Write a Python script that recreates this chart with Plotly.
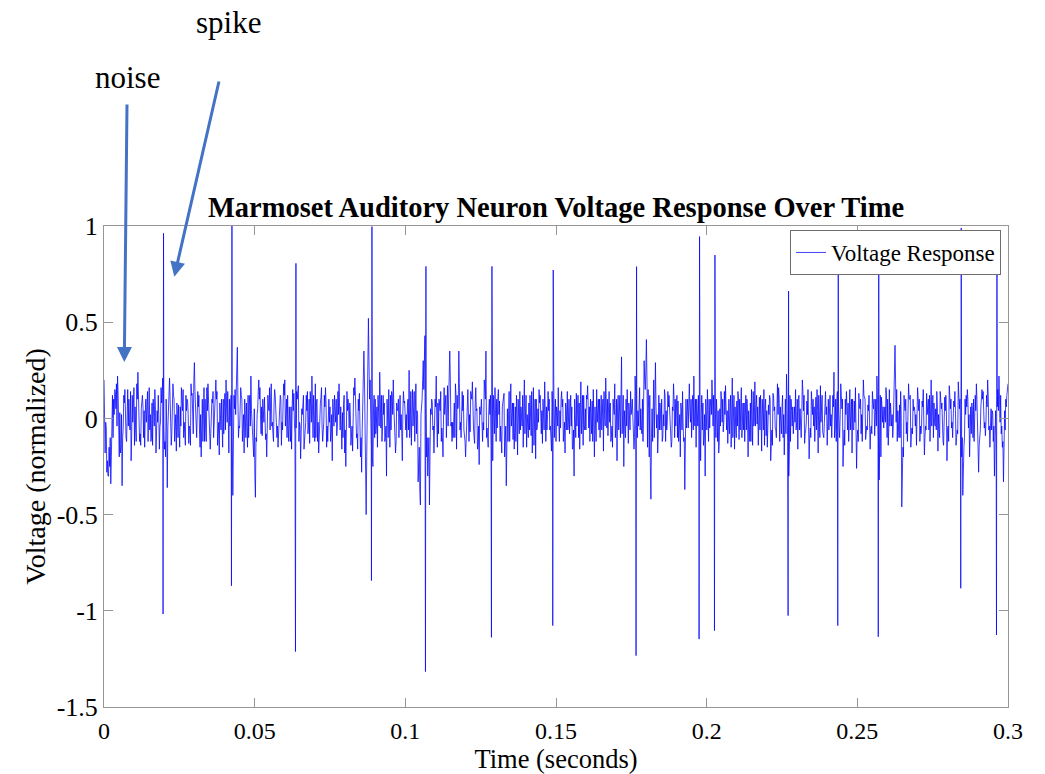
import plotly.graph_objects as go

# ---------------- data ----------------
dt = 0.00075  # sampling step of the background trace (s)

# background samples at t = i*dt
noise = [
    0.20, -0.05, -0.30, -0.34, -0.10, 0.14, 0.22, 0.03, -0.35, 0.08, -0.12, 0.10, -0.22, 0.06, -0.05, 0.24, -0.08, 0.12, -0.15, 0.04,
    0.16, -0.10, 0.05, -0.18, 0.12, -0.02, 0.21, -0.12, -0.36, 0.21, -0.08, 0.10, -0.17, 0.07, -0.04, 0.15, -0.14, 0.09, -0.06, 0.13,
    0.29, -0.10, 0.12, -0.20, 0.05, -0.06, 0.18, -0.16, 0.08, -0.03, 0.14, -0.19, 0.10, -0.08, 0.20, -0.12, 0.06, -0.40, 0.15, 0.37,
    -0.05, 0.10, -0.18, 0.08, -0.10, 0.22, -0.14, -0.41, 0.05, 0.16, -0.09, 0.11, -0.20, 0.04, 0.18, -0.12, 0.07, -0.15, 0.12, -0.06,
    0.20, -0.10, 0.06, -0.16, 0.13, -0.05, 0.17, -0.21, 0.09, -0.08, 0.14, -0.13, 0.22, -0.04, 0.08, -0.18, 0.11, -0.07, 0.16, -0.12,
    0.06, -0.22, 0.12, -0.09, 0.18, -0.14, 0.07, -0.25, 0.10, 0.02, -0.17, 0.21, -0.08, 0.13, -0.28, 0.35, -0.50, 0.52, -0.10, -0.25,
    0.10, -0.15, 0.24, -0.12, 0.08, -0.30, 0.15, -0.06, 0.20, -0.18, 0.05, 0.12, -0.22, 0.09, -0.10, 0.25, -0.14, 0.06, 0.18, -0.33,
    -0.45, 0.20, 0.43, -0.10, -0.45, 0.10, -0.18, 0.22, -0.08, 0.14, -0.20, 0.06, 0.17, 0.35, -0.12, 0.08, -0.16, 0.35, -0.10, 0.12,
    -0.20, 0.15, -0.07, 0.19, -0.13, 0.05, -0.24, 0.10, -0.06, 0.35, -0.15, 0.12, -0.22, 0.16, -0.05, 0.09, -0.18, 0.13, -0.35, 0.07,
    0.18, -0.11, 0.06, -0.19, 0.14, -0.04, 0.20, -0.15, 0.08, -0.09, 0.16, -0.21, 0.05, 0.12, -0.13, 0.19, -0.06, 0.10, -0.17, 0.21,
    -0.12, 0.16, -0.05, 0.10, -0.18, 0.14, -0.08, 0.06, -0.30, 0.13, -0.10, 0.19, -0.14, 0.05, 0.17, -0.12, 0.09, -0.20, 0.15, -0.06,
    0.12, -0.17, 0.21, -0.09, 0.08, -0.15, 0.18, -0.22, 0.05, 0.32, -0.25, 0.10, -0.13, 0.14, -0.05, 0.22, -0.10, 0.16, -0.08, 0.30,
    0.41, 0.05, -0.42, 0.10, 0.29, -0.18, 0.08, -0.12, 0.15, -0.06, 0.12, -0.15, 0.18, -0.04, 0.09, -0.20, 0.14, -0.37, 0.06, 0.18,
    -0.10, 0.22, -0.15, 0.12, -0.22, 0.08, -0.30, 0.15, -0.05, 0.20, -0.12, 0.10, -0.18, 0.14, -0.07, 0.17, -0.13, 0.06, 0.21, -0.16,
    0.09, -0.11, 0.16, -0.06, 0.12, -0.20, 0.08, -0.14, 0.19, -0.03, 0.11, -0.17, 0.15, -0.09, 0.07, -0.22, 0.13, -0.05, 0.18, -0.12,
    0.06, -0.19, 0.23, -0.30, 0.10, -0.08, 0.15, -0.16, 0.05, 0.20, -0.13, 0.09, -0.21, 0.14, -0.04, 0.11, -0.18, 0.17, -0.07, 0.12,
    -0.14, 0.08, -0.10, 0.24, -0.12, 0.06, 0.18, -0.25, 0.10, -0.06, 0.15, -0.18, 0.09, -0.26, 0.13, -0.08, 0.20, -0.11, 0.07, -0.16,
    0.14, -0.09, 0.22, -0.32, 0.11, -0.05, 0.16, -0.14, 0.08, -0.10, 0.38, -0.12, 0.07, -0.46, 0.12, -0.08, 0.18, -0.15, 0.10, -0.04,
    0.16, -0.12, 0.09, -0.19, 0.13, -0.06, 0.20, -0.10, 0.05, -0.17, 0.14, -0.08, 0.11, -0.22, 0.17, -0.05, 0.09, -0.14, 0.19, -0.11,
    -0.40, 0.10, 0.15, -0.20, 0.08, -0.12, 0.18, -0.28, 0.06, 0.14, -0.09, 0.20, -0.15, 0.04, -0.30, 0.12, 0.22, -0.08, -0.33, 0.10,
    0.18,
]

# background samples at t = (i + 0.25)*dt
noise_q1 = [
    0.05, -0.28, -0.15, -0.20, 0.10, 0.05, 0.12, -0.18, -0.10, 0.15, 0.04, -0.02, -0.08, 0.16, -0.12, 0.10, -0.14, 0.06, 0.02, 0.14,
    -0.06, 0.08, -0.04, -0.10, 0.02, 0.16, 0.08, -0.20, -0.05, 0.10, 0.04, -0.12, 0.08, -0.06, 0.16, -0.10, 0.12, 0.02, -0.14, 0.06,
    0.14, 0.02, -0.06, -0.04, 0.16, -0.12, 0.10, -0.08, 0.14, 0.06, -0.14, 0.08, -0.04, 0.06, 0.05, -0.18, 0.12, -0.20, 0.02, 0.10,
    0.08, -0.12, 0.10, -0.04, 0.06, 0.04, -0.20, -0.10, 0.14, 0.02, 0.10, -0.06, -0.05, 0.16, -0.04, 0.08, -0.02, -0.06, 0.10, 0.08,
    -0.04, 0.12, -0.10, 0.06, -0.02, 0.14, -0.12, -0.06, 0.12, -0.02, -0.08, 0.14, 0.04, -0.12, 0.10, -0.06, 0.16, -0.02, 0.08, 0.02,
    -0.12, 0.10, 0.06, -0.04, 0.10, -0.16, 0.12, -0.08, 0.04, -0.14, 0.08, 0.12, -0.16, 0.02, -0.06, 0.20, -0.20, 0.30, -0.15, 0.05,
    -0.08, 0.12, 0.02, -0.04, -0.12, 0.10, -0.02, 0.14, 0.06, -0.12, 0.10, -0.06, 0.04, 0.02, 0.06, -0.10, 0.02, 0.14, -0.08, -0.20,
    0.02, 0.30, 0.15, -0.30, -0.10, 0.08, 0.06, -0.02, 0.10, -0.12, 0.02, 0.12, -0.04, 0.20, -0.02, -0.10, 0.12, 0.18, 0.02, -0.06,
    -0.06, 0.04, 0.14, -0.04, 0.08, -0.16, 0.06, -0.02, 0.20, -0.10, 0.04, -0.14, 0.12, -0.04, 0.10, -0.12, 0.06, -0.20, -0.02, 0.14,
    -0.04, 0.08, -0.12, 0.10, -0.06, 0.12, -0.08, 0.02, -0.06, 0.14, -0.14, 0.10, -0.02, 0.04, 0.10, -0.10, 0.02, -0.06, 0.14, -0.10,
    0.06, -0.02, 0.10, -0.12, 0.08, -0.06, 0.04, -0.16, 0.10, -0.04, 0.08, -0.08, 0.12, -0.06, 0.04, 0.10, -0.12, 0.06, -0.02, 0.10,
    -0.06, 0.14, -0.04, 0.06, -0.12, 0.10, -0.10, 0.06, 0.12, -0.08, 0.04, -0.04, 0.08, 0.02, -0.10, 0.14, 0.04, -0.06, 0.10, 0.20,
    0.20, -0.20, -0.10, 0.20, 0.06, -0.08, 0.02, -0.10, 0.12, -0.02, 0.06, -0.12, 0.10, 0.04, -0.12, 0.08, -0.04, -0.20, 0.10, 0.04,
    0.06, -0.02, 0.10, -0.06, 0.02, -0.14, 0.10, -0.08, 0.06, 0.10, -0.06, 0.02, -0.12, 0.10, -0.02, 0.06, -0.04, 0.12, -0.10, 0.06,
    -0.04, 0.10, -0.10, 0.08, -0.06, 0.04, -0.12, 0.14, -0.04, 0.06, -0.06, 0.10, -0.14, 0.04, 0.02, -0.10, 0.12, -0.06, 0.02, 0.06,
    0.12, -0.06, 0.10, -0.16, 0.04, 0.02, -0.06, 0.10, -0.04, 0.14, -0.08, 0.02, -0.10, 0.08, 0.06, -0.06, 0.12, -0.02, -0.08, 0.14,
    -0.02, 0.12, 0.04, -0.10, 0.08, -0.04, 0.12, -0.12, 0.02, 0.08, -0.06, 0.10, -0.02, -0.10, 0.06, 0.02, 0.12, -0.08, 0.04, -0.06,
    0.08, -0.02, 0.10, -0.14, 0.06, 0.02, 0.12, -0.06, 0.02, -0.04, 0.20, 0.04, -0.10, -0.20, 0.06, -0.02, 0.10, -0.08, 0.04, 0.02,
    0.10, -0.04, 0.06, -0.10, 0.02, 0.12, -0.04, 0.08, -0.06, 0.02, 0.10, -0.12, 0.04, -0.06, 0.12, -0.02, 0.06, -0.10, 0.12, -0.04,
    -0.20, 0.02, 0.10, -0.08, 0.04, -0.02, 0.10, -0.14, 0.10, 0.04, -0.02, 0.12, -0.08, 0.02, -0.10, 0.06, 0.10, -0.04, -0.14, 0.06,
]

# background samples at t = (i + 0.5)*dt
noise_mid = [
    -0.18, -0.22, -0.25, 0.05, 0.02, 0.18, -0.10, -0.15, -0.05, -0.02, 0.15, -0.06, 0.12, -0.14, 0.18, 0.02, 0.05, -0.10, 0.10, -0.12,
    0.02, -0.14, 0.15, 0.04, -0.16, 0.08, -0.05, 0.10, 0.05, -0.12, 0.18, -0.06, 0.02, -0.15, 0.12, -0.02, 0.04, -0.13, 0.18, -0.08,
    0.05, 0.14, -0.15, 0.10, -0.12, 0.16, -0.04, 0.03, -0.10, 0.20, -0.05, 0.02, -0.15, 0.13, -0.02, 0.10, -0.18, 0.12, 0.22, -0.10,
    0.16, -0.04, 0.02, -0.15, 0.12, -0.06, 0.05, -0.12, 0.20, -0.08, 0.04, -0.11, 0.12, -0.06, -0.02, 0.15, -0.10, 0.05, -0.14, 0.18,
    0.03, -0.05, -0.12, 0.15, -0.08, 0.10, -0.02, 0.05, -0.16, 0.12, -0.04, 0.08, -0.10, 0.18, -0.12, 0.04, -0.05, 0.12, -0.15, 0.10,
    -0.08, 0.05, -0.02, 0.14, -0.06, 0.03, -0.18, 0.14, -0.05, -0.10, 0.16, -0.04, 0.10, -0.20, 0.05, -0.10, 0.05, 0.10, -0.05, 0.12,
    -0.04, 0.06, -0.05, 0.12, -0.10, 0.04, -0.15, 0.12, -0.02, 0.08, -0.10, 0.02, 0.14, -0.06, 0.10, -0.04, 0.15, -0.12, 0.04, -0.15,
    0.05, 0.15, 0.10, -0.20, 0.05, -0.06, 0.10, -0.15, 0.04, -0.05, 0.16, -0.10, 0.08, -0.04, -0.10, 0.18, 0.05, -0.06, 0.14, -0.08,
    0.04, -0.12, 0.10, -0.05, 0.16, -0.14, 0.02, -0.12, 0.15, -0.05, 0.10, -0.08, 0.04, -0.12, 0.15, -0.04, 0.08, -0.10, 0.05, -0.12,
    0.05, -0.16, 0.12, -0.02, 0.06, -0.15, 0.10, -0.04, 0.12, -0.18, 0.04, -0.06, 0.15, -0.08, 0.05, -0.12, 0.14, -0.04, 0.06, -0.02,
    0.04, -0.12, 0.14, -0.06, 0.05, -0.02, 0.12, -0.15, 0.02, 0.05, -0.16, 0.06, -0.04, 0.12, -0.05, -0.02, 0.15, -0.08, 0.04, -0.10,
    0.05, 0.02, -0.05, 0.14, -0.10, 0.06, -0.04, 0.12, -0.10, 0.05, -0.04, 0.15, -0.02, 0.05, -0.16, 0.10, -0.04, 0.05, -0.12, 0.15,
    -0.15, 0.12, 0.05, -0.10, -0.05, 0.12, -0.06, 0.02, -0.12, 0.14, -0.05, 0.06, -0.10, 0.12, -0.06, 0.04, -0.12, 0.10, -0.05, -0.02,
    0.12, -0.04, 0.05, -0.15, 0.12, -0.10, 0.05, -0.12, 0.10, -0.04, 0.06, -0.12, 0.05, -0.02, 0.14, -0.06, 0.10, -0.15, 0.05, -0.04,
    0.14, -0.06, 0.04, -0.12, 0.10, -0.05, 0.15, -0.04, 0.06, -0.14, 0.12, -0.02, 0.05, -0.15, 0.12, -0.06, 0.04, -0.10, 0.16, -0.05,
    -0.10, 0.10, -0.12, 0.12, -0.04, 0.06, -0.02, 0.12, -0.10, 0.04, -0.06, 0.15, -0.05, 0.02, -0.12, 0.15, -0.04, 0.06, -0.10, 0.02,
    0.10, -0.04, 0.12, -0.05, 0.14, -0.10, 0.05, -0.06, 0.14, -0.12, 0.04, -0.05, 0.16, -0.06, 0.05, -0.12, 0.10, -0.04, 0.12, -0.04,
    0.05, 0.10, -0.12, 0.12, -0.02, 0.06, -0.10, 0.15, -0.04, 0.12, -0.02, -0.06, 0.14, -0.15, 0.04, -0.12, 0.10, -0.05, 0.06, -0.14,
    0.04, -0.08, 0.15, -0.04, 0.06, -0.12, 0.10, -0.02, 0.14, -0.06, 0.05, -0.14, 0.12, -0.04, 0.05, -0.10, 0.14, -0.06, 0.05, -0.20,
    -0.15, 0.12, -0.05, 0.06, -0.10, 0.12, -0.04, -0.10, 0.15, -0.05, 0.12, -0.06, 0.05, -0.12, 0.04, 0.15, -0.02, -0.15, 0.04, 0.12,
]

# background samples at t = (i + 0.75)*dt
noise_q3 = [
    -0.02, -0.30, -0.10, 0.12, 0.15, -0.04, -0.20, 0.02, 0.12, -0.10, -0.04, 0.14, -0.02, 0.06, 0.10, -0.12, 0.08, 0.04, -0.02, 0.10,
    -0.12, 0.10, 0.06, -0.02, -0.04, 0.14, -0.16, -0.04, 0.10, -0.14, 0.12, 0.02, -0.10, 0.06, 0.04, -0.08, 0.10, -0.04, 0.12, 0.20,
    -0.04, 0.06, 0.02, -0.12, 0.10, 0.04, -0.14, 0.10, -0.02, 0.10, -0.02, -0.06, 0.10, -0.06, 0.14, -0.04, -0.10, 0.05, 0.30, -0.04,
    0.12, 0.02, -0.10, 0.12, -0.04, -0.06, -0.30, 0.02, 0.10, 0.06, -0.02, -0.08, 0.06, 0.10, -0.08, 0.12, -0.04, 0.08, -0.02, 0.12,
    0.10, -0.12, 0.06, 0.04, -0.06, 0.14, -0.04, 0.02, -0.10, 0.04, 0.10, -0.02, 0.12, -0.10, -0.02, 0.08, -0.12, 0.06, -0.04, -0.02,
    0.02, -0.04, 0.10, 0.02, 0.06, -0.10, -0.06, 0.04, 0.08, -0.04, 0.12, -0.10, 0.04, -0.10, 0.10, -0.20, 0.10, 0.20, -0.20, -0.10,
    0.06, -0.04, 0.12, 0.02, -0.04, -0.10, 0.12, 0.02, -0.06, 0.04, 0.02, -0.08, 0.08, 0.02, -0.06, 0.14, -0.04, 0.10, 0.02, -0.38,
    0.10, 0.35, -0.20, -0.10, 0.02, -0.04, 0.06, 0.08, 0.04, -0.10, 0.02, 0.10, 0.20, -0.02, 0.02, 0.12, 0.06, -0.02, 0.04, -0.12,
    0.06, 0.02, 0.10, -0.10, 0.04, -0.04, 0.04, -0.02, 0.10, -0.10, 0.02, 0.06, -0.08, 0.10, 0.02, -0.10, 0.10, -0.04, -0.12, 0.12,
    0.08, -0.04, 0.02, -0.08, 0.02, 0.06, 0.12, -0.10, 0.04, -0.02, 0.10, -0.04, 0.08, 0.04, -0.06, 0.06, 0.04, -0.10, 0.02, 0.10,
    -0.04, 0.04, 0.06, -0.02, -0.06, 0.10, -0.04, -0.06, -0.10, 0.12, -0.04, 0.12, -0.06, 0.10, 0.06, -0.08, 0.04, -0.12, 0.10, 0.02,
    0.10, -0.04, 0.10, -0.02, -0.04, 0.02, 0.10, -0.06, 0.14, 0.12, -0.10, 0.04, -0.06, 0.10, -0.10, 0.06, 0.04, -0.04, 0.08, 0.25,
    0.15, -0.25, -0.12, 0.15, 0.02, -0.06, 0.10, -0.04, 0.04, 0.06, -0.06, 0.04, 0.10, -0.10, 0.02, -0.06, -0.10, -0.05, 0.04, 0.10,
    -0.06, 0.10, -0.04, 0.02, -0.06, 0.02, -0.06, 0.10, 0.02, 0.12, -0.10, 0.04, -0.04, 0.10, 0.02, 0.04, -0.08, 0.02, 0.12, -0.10,
    0.10, 0.02, 0.08, -0.04, 0.02, -0.12, 0.04, -0.02, 0.12, -0.06, 0.02, -0.06, 0.10, -0.04, 0.10, -0.14, 0.06, 0.04, 0.10, -0.08,
    0.02, -0.08, 0.04, -0.12, 0.06, -0.02, 0.10, -0.06, 0.02, 0.12, -0.02, 0.02, -0.10, 0.10, -0.02, 0.04, -0.10, 0.12, -0.02, 0.06,
    -0.06, 0.02, 0.06, 0.10, -0.04, 0.02, 0.10, -0.14, 0.06, -0.02, 0.10, -0.06, 0.02, -0.12, 0.10, -0.02, 0.10, -0.06, 0.02, -0.08,
    0.10, -0.04, 0.12, -0.20, 0.06, -0.02, 0.10, -0.04, 0.02, 0.10, 0.15, -0.10, 0.02, -0.20, 0.10, -0.02, 0.12, -0.08, 0.04, 0.02,
    0.10, -0.04, 0.02, -0.06, 0.10, -0.02, 0.12, -0.04, 0.06, -0.10, 0.08, -0.02, 0.04, -0.12, 0.10, 0.02, 0.04, -0.08, 0.10, -0.10,
    -0.10, 0.06, 0.02, -0.08, 0.10, 0.04, -0.04, -0.06, 0.10, -0.02, 0.06, -0.04, -0.06, -0.04, -0.10, 0.04, 0.12, -0.12, -0.06, 0.14,
]

spike_times = [0.01968, 0.04238, 0.06362, 0.08884, 0.10676, 0.12866, 0.14900, 0.17665,
               0.19756, 0.20267, 0.22710, 0.24359, 0.25702, 0.28440, 0.29626]
spike_peaks = [0.962, 1.00, 0.806, 0.997, 0.79, 0.79, 0.771, 0.789,
               0.945, 0.849, 0.662, 0.93, 0.90, 0.99, 0.93]
spike_troughs = [-1.017, -0.87, -1.212, -0.843, -1.316, -1.138, -1.077, -1.233,
                 -1.147, -1.103, -1.025, -1.077, -1.135, -0.883, -1.126]

x_tick_vals = [0, 0.05, 0.1, 0.15, 0.2, 0.25, 0.3]
x_tick_text = ["0", "0.05", "0.1", "0.15", "0.2", "0.25", "0.3"]
y_tick_vals = [-1.5, -1, -0.5, 0, 0.5, 1]
y_tick_text = ["-1.5", "-1", "-0.5", "0", "0.5", "1"]

# ---------------- assemble trace ----------------
points = [(i * dt, v) for i, v in enumerate(noise)]
points += [((i + 0.25) * dt, v) for i, v in enumerate(noise_q1)]
points += [((i + 0.5) * dt, v) for i, v in enumerate(noise_mid)]
points += [((i + 0.75) * dt, v) for i, v in enumerate(noise_q3)]
half = 0.00008
for ts, pk, tr in zip(spike_times, spike_peaks, spike_troughs):
    points.append((ts - half, tr))
    points.append((ts + half, pk))
points.sort(key=lambda p: p[0])
t_all = [p[0] for p in points]
v_all = [p[1] for p in points]

FONT = "Liberation Serif, Times New Roman, serif"
AXIS_GRAY = "rgb(150,150,150)"
ARROW_BLUE = "rgb(68,114,196)"

fig = go.Figure()
fig.add_trace(go.Scatter(
    x=t_all, y=v_all, mode="lines", name="Voltage Response",
    line=dict(color="rgb(0,0,255)", width=0.75),
))

axis_common = dict(
    showline=True, linecolor=AXIS_GRAY, linewidth=1, mirror="ticks",
    ticks="inside", ticklen=9, tickcolor=AXIS_GRAY, tickwidth=1,
    showgrid=False, zeroline=False, automargin=False,
)

fig.update_layout(
    width=1045, height=774,
    margin=dict(l=104, r=37, t=226, b=67),
    paper_bgcolor="white", plot_bgcolor="white",
    font=dict(family=FONT, color="black"),
    title=dict(
        text="<b>Marmoset Auditory Neuron Voltage Response Over Time</b>",
        font=dict(family=FONT, size=28.5, color="black"),
        x=0.5, xref="paper", xanchor="center",
        y=1 - 207 / 774, yref="container", yanchor="middle",
    ),
    xaxis=dict(
        range=[0, 0.3], tickvals=x_tick_vals, ticktext=x_tick_text,
        tickfont=dict(size=24, family=FONT, color="black"),
        ticklabelstandoff=2,
        title=dict(text="Time (seconds)", font=dict(size=26.5, family=FONT, color="black"), standoff=7),
        **axis_common,
    ),
    yaxis=dict(
        range=[-1.5, 1], tickvals=y_tick_vals, ticktext=y_tick_text,
        tickfont=dict(size=26, family=FONT, color="black"),
        title=dict(text="Voltage (normalized)", font=dict(size=28, family=FONT, color="black"), standoff=2),
        **axis_common,
    ),
    showlegend=True,
    legend=dict(
        x=(1001 - 104) / 904, y=(707 - 230) / 481, xanchor="right", yanchor="top",
        bgcolor="white", bordercolor="rgb(110,110,110)", borderwidth=1,
        font=dict(size=23, family=FONT, color="black"),
        itemwidth=30, tracegroupgap=0,
    ),
)

# annotation arrows
fig.add_annotation(
    x=0.00674, y=0.293, xref="x", yref="y", ax=2.7, ay=-259, axref="pixel", ayref="pixel",
    text="", showarrow=True, arrowhead=2, arrowsize=1, arrowwidth=3, arrowcolor=ARROW_BLUE, standoff=0,
)
fig.add_annotation(
    x=0.02333, y=0.7365, xref="x", yref="y", ax=45, ay=-196.7, axref="pixel", ayref="pixel",
    text="", showarrow=True, arrowhead=2, arrowsize=1, arrowwidth=3, arrowcolor=ARROW_BLUE, standoff=0,
)
# annotation texts
fig.add_annotation(
    x=(127 - 104) / 904, y=(707 - 77) / 481, xref="paper", yref="paper",
    text="noise", showarrow=False, font=dict(size=31, family=FONT, color="black"),
    xanchor="center", yanchor="middle",
)
fig.add_annotation(
    x=(228 - 104) / 904, y=(707 - 22) / 481, xref="paper", yref="paper",
    text="spike", showarrow=False, font=dict(size=31, family=FONT, color="black"),
    xanchor="center", yanchor="middle",
)

fig.write_html("out.html")
